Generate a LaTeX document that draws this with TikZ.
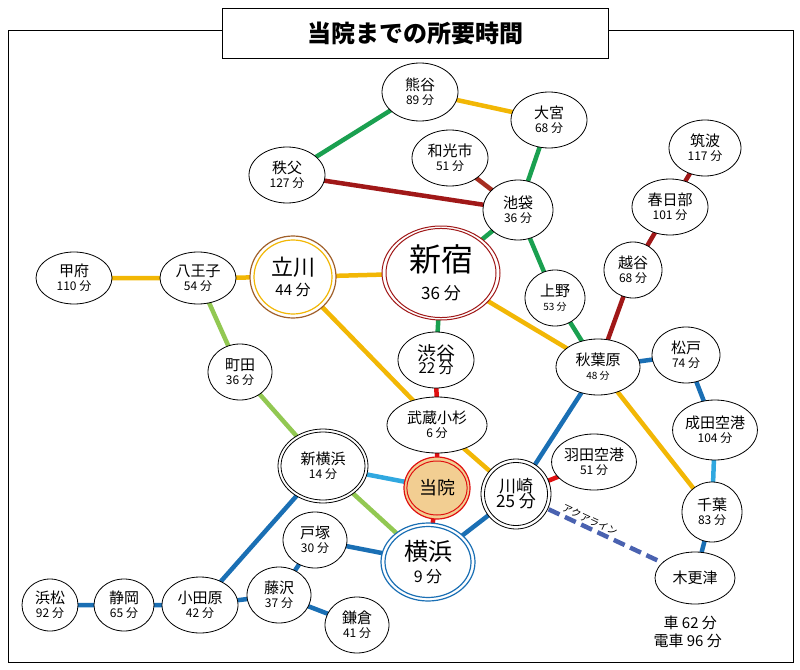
\documentclass[tikz,border=0pt]{standalone}
\usepackage{fontspec}
\setmainfont{Noto Sans CJK JP}
\usetikzlibrary{shapes.geometric}
\definecolor{cOr}{HTML}{F2B705}
\definecolor{cGr}{HTML}{1AA050}
\definecolor{cDr}{HTML}{A01818}
\definecolor{cRe}{HTML}{E01010}
\definecolor{cLg}{HTML}{92C852}
\definecolor{cLb}{HTML}{30A8E0}
\definecolor{cBl}{HTML}{1A6FB4}
\definecolor{cDa}{HTML}{4A62B0}
\definecolor{cBr}{HTML}{A0602A}
\definecolor{cTan}{HTML}{F2CE92}
\tikzset{
 st/.style={ellipse,draw,fill=white,line width=0.8pt,inner sep=0pt,align=center,font=\fontsize{15}{15}\selectfont},
 ln/.style={line width=4.5pt},
 mn/.style={font=\fontsize{12}{12}\selectfont}
}
\newcommand{\SN}[2]{#1\\[-1pt]{\fontsize{12}{12}\selectfont #2}}
\begin{document}
\begin{tikzpicture}[x=1pt,y=-1pt]
\useasboundingbox (0,0) rectangle (800,669);
\draw[line width=0.6pt] (8,30) rectangle (793,662);
% nodes (coordinates first)
\coordinate (kum) at (420,92); \coordinate (omi) at (549,120);
\coordinate (wak) at (450,158); \coordinate (chi) at (287,175);
\coordinate (ike) at (518,210); \coordinate (tsu) at (705,148);
\coordinate (kas) at (670,207); \coordinate (kos) at (633,270);
\coordinate (kof) at (74,278); \coordinate (hac) at (198,278);
\coordinate (tac) at (293,277); \coordinate (shi) at (441,273);
\coordinate (uen) at (555,298); \coordinate (sby) at (436,360);
\coordinate (aki) at (598,367); \coordinate (mat) at (686,355);
\coordinate (mac) at (240,372); \coordinate (mus) at (437,425);
\coordinate (nar) at (715,430); \coordinate (syk) at (323,466);
\coordinate (toi) at (437,488); \coordinate (han) at (594,462);
\coordinate (kaw) at (516,494); \coordinate (chb) at (712,512);
\coordinate (tot) at (315,540); \coordinate (yok) at (428,562);
\coordinate (kis) at (695,578); \coordinate (ham) at (50,605);
\coordinate (siz) at (124,605); \coordinate (oda) at (200,605);
\coordinate (fuj) at (279,595); \coordinate (kam) at (357,625);
% lines
\draw[ln,cOr] (kum)--(omi); \draw[ln,cOr] (kof)--(hac)--(tac)--(shi)--(aki)--(chb);
\draw[ln,cOr] (tac)--(mus)--(kaw);
\draw[ln,cGr] (kum)--(chi); \draw[ln,cGr] (omi)--(ike)--(shi); \draw[ln,cGr] (ike)--(uen)--(aki);
\draw[ln,cGr] (shi)--(sby);
\draw[ln,cDr] (chi)--(ike); \draw[ln,cDr!80!brown] (wak)--(ike);
\draw[ln,cDr] (tsu)--(kas)--(kos)--(aki);
\draw[ln,cRe] (sby)--(mus)--(toi)--(yok); \draw[ln,cRe] (kaw)--(han);
\draw[ln,cLg] (hac)--(mac)--(syk)--(yok);
\draw[ln,cLb] (syk)--(toi); \draw[ln,cLb] (nar)--(chb);
\draw[ln,cBl] (aki)--(mat)--(nar); \draw[ln,cBl] (aki)--(kaw)--(yok)--(tot)--(fuj)--(oda)--(siz)--(ham);
\draw[ln,cBl] (oda)--(syk); \draw[ln,cBl] (fuj)--(kam); \draw[ln,cBl] (chb)--(kis);
\draw[ln,cDa,dash pattern=on 12pt off 6pt] (kaw)--(kis);
\node[rotate=-25,font=\fontsize{10}{10}\selectfont] (aqua) at (590,520) {アクアライン};
% stations
\node[st,minimum width=76,minimum height=58] (nkum) at (kum) {\SN{熊谷}{89 分}};
\node[st,minimum width=76,minimum height=56] (nomi) at (omi) {\SN{大宮}{68 分}};
\node[st,minimum width=76,minimum height=56] (nwak) at (wak) {\SN{和光市}{51 分}};
\node[st,minimum width=76,minimum height=56] (nchi) at (chi) {\SN{秩父}{127 分}};
\node[st,minimum width=70,minimum height=60] (nike) at (ike) {\SN{池袋}{36 分}};
\node[st,minimum width=72,minimum height=56] (ntsu) at (tsu) {\SN{筑波}{117 分}};
\node[st,minimum width=76,minimum height=56] (nkas) at (kas) {\SN{春日部}{101 分}};
\node[st,minimum width=58,minimum height=56] (nkos) at (kos) {\SN{越谷}{68 分}};
\node[st,minimum width=76,minimum height=52] (nkof) at (kof) {\SN{甲府}{110 分}};
\node[st,minimum width=76,minimum height=52] (nhac) at (hac) {\SN{八王子}{54 分}};
\node[st,minimum width=60,minimum height=56] (nuen) at (uen) {\SN{上野}{{\fontsize{10}{10}\selectfont 53 分}}};
\node[st,minimum width=76,minimum height=56] (nsby) at (sby) {{\fontsize{19}{19}\selectfont 渋谷}\\[-2pt]22 分};
\node[st,minimum width=84,minimum height=56] (naki) at (aki) {\SN{秋葉原}{{\fontsize{10}{10}\selectfont 48 分}}};
\node[st,minimum width=68,minimum height=56] (nmat) at (mat) {\SN{松戸}{74 分}};
\node[st,minimum width=64,minimum height=56] (nmac) at (mac) {\SN{町田}{36 分}};
\node[st,minimum width=100,minimum height=56] (nmus) at (mus) {\SN{武蔵小杉}{6 分}};
\node[st,minimum width=84,minimum height=60] (nnar) at (nar) {\SN{成田空港}{104 分}};
\node[st,minimum width=84,minimum height=56] (nhan) at (han) {\SN{羽田空港}{51 分}};
\node[st,minimum width=60,minimum height=60] (nchb) at (chb) {\SN{千葉}{83 分}};
\node[st,minimum width=64,minimum height=56] (ntot) at (tot) {\SN{戸塚}{30 分}};
\node[st,minimum width=80,minimum height=52] (nkis) at (kis) {木更津};
\node[st,minimum width=56,minimum height=52] (nham) at (ham) {\SN{浜松}{92 分}};
\node[st,minimum width=60,minimum height=52] (nsiz) at (siz) {\SN{静岡}{65 分}};
\node[st,minimum width=76,minimum height=56] (noda) at (oda) {\SN{小田原}{42 分}};
\node[st,minimum width=64,minimum height=56] (nfuj) at (fuj) {\SN{藤沢}{37 分}};
\node[st,minimum width=64,minimum height=56] (nkam) at (kam) {\SN{鎌倉}{41 分}};
% double-ring stations
\node[ellipse,draw=cBr,line width=1.2pt,fill=white,minimum width=86,minimum height=82] (ntac) at (tac) {};
\node[ellipse,draw=cOr,line width=1.2pt,minimum width=78,minimum height=74,align=center,font=\fontsize{22}{22}\selectfont] (ntac2) at (tac) {立川\\[-2pt]{\fontsize{15}{15}\selectfont 44 分}};
\node[ellipse,draw=cDr,line width=1pt,fill=white,minimum width=118,minimum height=94] (nshi) at (shi) {};
\node[ellipse,draw=cDr,line width=1pt,minimum width=110,minimum height=86,align=center,font=\fontsize{32}{32}\selectfont] (nshi2) at (shi) {新宿\\[-4pt]{\fontsize{17}{17}\selectfont 36 分}};
\node[ellipse,draw,line width=0.8pt,fill=white,minimum width=90,minimum height=74] (nsyk) at (syk) {};
\node[ellipse,draw,line width=0.8pt,minimum width=84,minimum height=68,align=center,font=\fontsize{15}{15}\selectfont] (nsyk2) at (syk) {新横浜\\[-1pt]{\fontsize{12}{12}\selectfont 14 分}};
\node[ellipse,draw=cRe,line width=1.2pt,fill=cTan,minimum width=66,minimum height=62] (ntoi) at (toi) {};
\node[ellipse,draw=cRe,line width=1pt,minimum width=58,minimum height=54,font=\fontsize{18}{18}\selectfont] (ntoi2) at (toi) {当院};
\node[circle,draw,line width=0.8pt,fill=white,minimum size=70] (nkaw) at (kaw) {};
\node[circle,draw,line width=0.8pt,minimum size=63,align=center,font=\fontsize{17}{17}\selectfont] (nkaw2) at (kaw) {川崎\\[-2pt]25 分};
\node[ellipse,draw=cBl,line width=1.2pt,fill=white,minimum width=94,minimum height=78] (nyok) at (yok) {};
\node[ellipse,draw=cBl,line width=1.2pt,minimum width=86,minimum height=70,align=center,font=\fontsize{24}{24}\selectfont] (nyok2) at (yok) {横浜\\[-2pt]{\fontsize{16}{16}\selectfont 9 分}};
\node[align=left,font=\fontsize{15}{18}\selectfont,anchor=north west] (kist) at (650,612) {\ \ \ 車 62 分\\電車 96 分};
% title
\node[draw,fill=white,line width=0.6pt,minimum width=386,minimum height=50,font=\bfseries\fontsize{24}{24}\selectfont] (title) at (415,33) {当院までの所要時間};
\end{tikzpicture}
\end{document}
